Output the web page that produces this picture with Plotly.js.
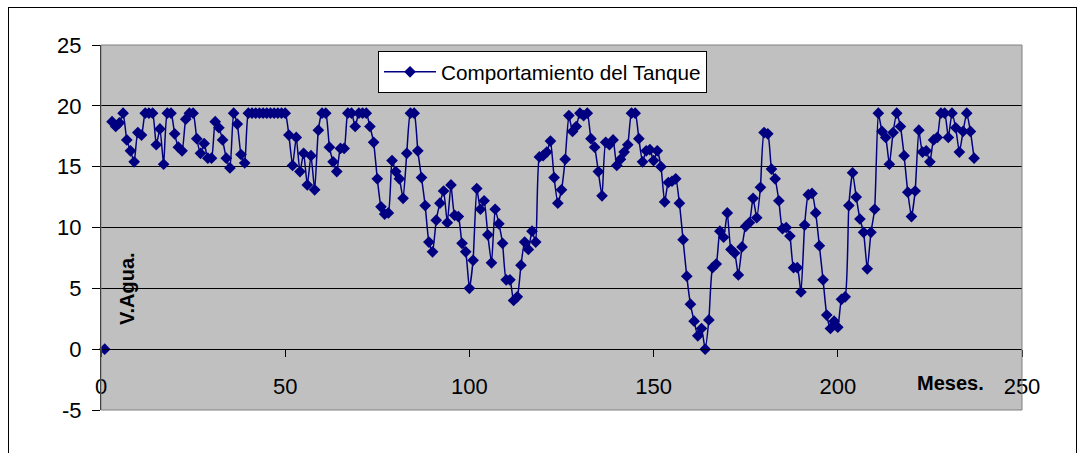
<!DOCTYPE html>
<html>
<head>
<meta charset="utf-8">
<script src="https://cdn.plot.ly/plotly-3.0.1.min.js"></script>
<style>
  html, body { margin: 0; padding: 0; background: #ffffff; }
  #wrap { position: relative; width: 1084px; height: 453px; overflow: hidden; }
  #chart { width: 1084px; height: 453px; }
  #frame { position: absolute; left: 8px; top: 7px; width: 1069px; height: 460px;
           border: 1px solid #000; pointer-events: none; box-sizing: border-box; }
</style>
</head>
<body>
<div id="wrap">
  <div id="chart"></div>
  <div id="frame"></div>
</div>
<script>
// Tank volume per month (month 2 missing)
const volumen = [
  0, null, 18.7, 18.3, 18.6, 19.4, 17.2, 16.3, 15.4, 17.8,
  17.6, 19.4, 19.4, 19.4, 16.8, 18.1, 15.2, 19.4, 19.4, 17.7,
  16.6, 16.3, 18.9, 19.4, 19.4, 17.3, 16.1, 16.9, 15.7, 15.7,
  18.7, 18.2, 17.2, 15.7, 14.9, 19.4, 18.5, 16.0, 15.3, 19.4,
  19.4, 19.4, 19.4, 19.4, 19.4, 19.4, 19.4, 19.4, 19.4, 19.4,
  17.6, 15.1, 17.4, 14.6, 16.1, 13.5, 15.9, 13.1, 18.0, 19.4,
  19.4, 16.6, 15.4, 14.6, 16.5, 16.5, 19.4, 19.4, 18.3, 19.4,
  19.4, 19.4, 18.3, 17.0, 14.0, 11.7, 11.1, 11.2, 15.5, 14.6,
  14.0, 12.4, 16.1, 19.4, 19.4, 16.3, 14.1, 11.8, 8.8, 8.0,
  10.6, 12.0, 13.0, 10.4, 13.5, 11.0, 10.9, 8.7, 8.0, 5.0,
  7.3, 13.2, 11.5, 12.2, 9.4, 7.1, 11.5, 10.3, 8.7, 5.7,
  5.7, 4.0, 4.3, 6.9, 8.8, 8.2, 9.7, 8.8, 15.8, 15.9,
  16.2, 17.1, 14.1, 12.0, 13.1, 15.6, 19.2, 17.9, 18.3, 19.4,
  19.2, 19.4, 17.3, 16.6, 14.6, 12.6, 17.0, 16.8, 17.2, 15.1,
  15.6, 16.2, 16.8, 19.4, 19.4, 17.3, 15.4, 16.3, 16.4, 15.5,
  16.3, 15.0, 12.1, 13.7, 13.8, 14.0, 12.0, 9.0, 6.0, 3.7,
  2.3, 1.1, 1.7, 0.0, 2.4, 6.7, 7.0, 9.7, 9.2, 11.2,
  8.2, 7.9, 6.1, 8.4, 10.1, 10.4, 12.4, 10.8, 13.3, 17.8,
  17.7, 14.8, 14.0, 12.2, 9.9, 10.0, 9.3, 6.7, 6.7, 4.7,
  10.2, 12.7, 12.8, 11.2, 8.5, 5.7, 2.8, 1.7, 2.3, 1.8,
  4.1, 4.3, 11.8, 14.5, 12.5, 10.7, 9.6, 6.6, 9.6, 11.5,
  19.4, 17.9, 17.4, 15.2, 17.8, 19.4, 18.3, 15.9, 12.9, 10.9,
  13.0, 18.0, 16.2, 16.3, 15.4, 17.2, 17.4, 19.4, 19.4, 17.4,
  19.4, 18.2, 16.2, 17.9, 19.4, 17.9, 15.7
];
const meses = volumen.map((_, i) => i + 1);
const xTicks = [0, 50, 100, 150, 200, 250];
const yTicks = [-5, 0, 5, 10, 15, 20, 25];
const serieNombre = "Comportamiento del Tanque";
const yTitulo = "V.Agua.";
const xTitulo = "Meses.";

const FONT = "Arial, 'Liberation Sans', sans-serif";

const trace = {
  x: meses,
  y: volumen,
  type: "scatter",
  mode: "lines+markers",
  name: serieNombre,
  connectgaps: false,
  line: { color: "#000080", width: 1.5, shape: "spline", smoothing: 0.5 },
  marker: { symbol: "diamond", size: 9, color: "#000080", line: { width: 0 } },
  cliponaxis: false
};

const layout = {
  width: 1084,
  height: 453,
  margin: { l: 101, r: 62, t: 45, b: 43, pad: 0 },
  paper_bgcolor: "#ffffff",
  plot_bgcolor: "#c0c0c0",
  font: { family: FONT, size: 20, color: "#000" },
  showlegend: true,
  legend: {
    x: 0.3008, y: 0.984, xanchor: "left", yanchor: "top",
    bgcolor: "#ffffff", bordercolor: "#000", borderwidth: 1,
    itemwidth: 52,
    font: { family: FONT, size: 20.7, color: "#000" },
    tracegroupgap: 0
  },
  xaxis: {
    range: [0, 250],
    tickvals: xTicks,
    ticktext: xTicks.map(String),
    showgrid: false,
    zeroline: false,
    showline: true, linecolor: "#000", linewidth: 1,
    anchor: "free", position: 1 / 6,
    ticks: "outside", ticklen: 7, tickcolor: "#000", tickwidth: 1,
    ticklabelstandoff: 10,
    tickfont: { family: FONT, size: 22, color: "#000" }
  },
  yaxis: {
    range: [-5, 25],
    tickvals: yTicks,
    ticktext: yTicks.map(String),
    showgrid: true, gridcolor: "#000", gridwidth: 1,
    zeroline: false,
    showline: true, linecolor: "#000", linewidth: 1,
    ticks: "outside", ticklen: 8, tickcolor: "#000", tickwidth: 1,
    ticklabelstandoff: 6,
    tickfont: { family: FONT, size: 22, color: "#000" }
  },
  shapes: [
    { type: "rect", xref: "paper", yref: "paper", x0: 0, x1: 1, y0: 0, y1: 1,
      line: { color: "#808080", width: 1 }, fillcolor: "rgba(0,0,0,0)", layer: "above" }
  ],
  annotations: [
    { text: "<b>" + yTitulo + "</b>", xref: "paper", yref: "paper",
      x: (127 - 101) / 921, y: (410 - 289) / 365, textangle: -90,
      showarrow: false, xanchor: "center", yanchor: "middle",
      font: { family: FONT, size: 20, color: "#000" } },
    { text: "<b>" + xTitulo + "</b>", xref: "paper", yref: "paper",
      x: (950 - 101) / 921, y: (410 - 383) / 365,
      showarrow: false, xanchor: "center", yanchor: "middle",
      font: { family: FONT, size: 20, color: "#000" } }
  ]
};

Plotly.newPlot("chart", [trace], layout, { displayModeBar: false, staticPlot: true });
</script>
</body>
</html>
